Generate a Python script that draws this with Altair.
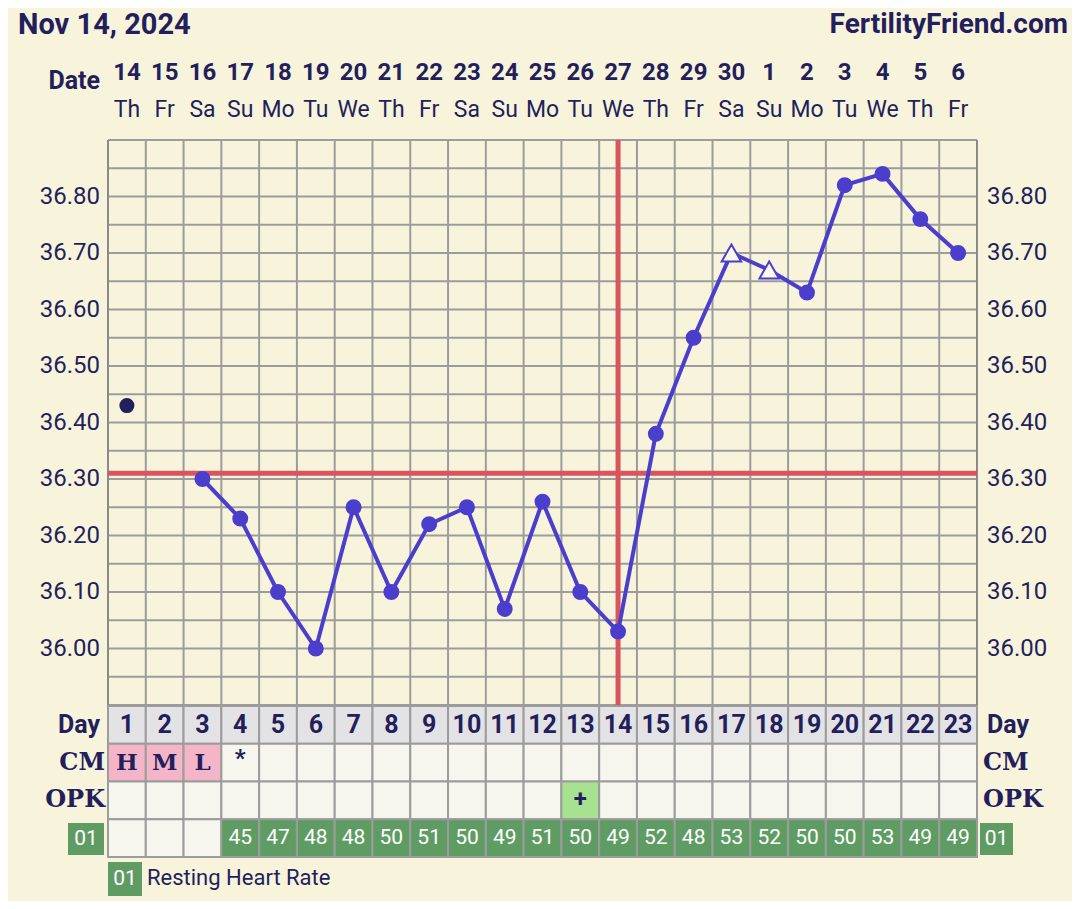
import altair as alt
import pandas as pd
import numpy as np

# ---------------- data ----------------
days = list(range(1, 24))
dates = [14, 15, 16, 17, 18, 19, 20, 21, 22, 23, 24, 25, 26, 27, 28, 29, 30, 1, 2, 3, 4, 5, 6]
weekdays = ["Th", "Fr", "Sa", "Su", "Mo", "Tu", "We", "Th", "Fr", "Sa", "Su", "Mo",
            "Tu", "We", "Th", "Fr", "Sa", "Su", "Mo", "Tu", "We", "Th", "Fr"]
temps = [36.43, None, 36.30, 36.23, 36.10, 36.00, 36.25, 36.10, 36.22, 36.25, 36.07, 36.26,
         36.10, 36.03, 36.38, 36.55, 36.70, 36.67, 36.63, 36.82, 36.84, 36.76, 36.70]
markers = ["isolated", None] + ["circle"] * 14 + ["open", "open"] + ["circle"] * 5
cm = ["H", "M", "L", "*"] + [""] * 19
opk = [""] * 12 + ["+"] + [""] * 10
hr = [None, None, None, 45, 47, 48, 48, 50, 51, 50, 49, 51, 50, 49, 52, 48, 53, 52, 50, 50, 53, 49, 49]
temp_ticks = ["36.00", "36.10", "36.20", "36.30", "36.40", "36.50", "36.60", "36.70", "36.80"]
row_labels = ["Day", "CM", "OPK"]
coverline = 36.31
ovulation_day = 14
temp_min, temp_max, temp_step = 35.90, 36.90, 0.05
title_left = "Nov 14, 2024"
title_right = "FertilityFriend.com"
hr_code = "01"
hr_legend = "Resting Heart Rate"

# ---------------- style ----------------
NAVY = "#231F5C"
BG = "#F8F4DC"
GRID = "#9C9C9C"
BORDER = "#8A8A8A"
LINE = "#4B3ECC"
RED = "#D9545C"
DAYROW = "#E3E3E5"
CELL = "#F6F6EE"
PINK = "#F4B5C8"
LGREEN = "#A6E28F"
GREEN = "#5F9C63"
SANS = "Roboto"
SERIF = "DejaVu Serif"

XS = alt.Scale(domain=[days[0] - 0.5, days[-1] + 0.5], range=[100, 969])
TS = alt.Scale(domain=[temp_min, temp_max], range=[697, 132], zero=False)
RS = alt.Scale(domain=[0, 4], range=[698, 849], zero=False)


def X(f):
    return alt.X(f"{f}:Q", scale=XS, axis=None)


def X2(f):
    return alt.X2(f"{f}:Q")


def YT(f):
    return alt.Y(f"{f}:Q", scale=TS, axis=None)


def YR(f):
    return alt.Y(f"{f}:Q", scale=RS, axis=None)


temp_df = pd.DataFrame({"day": days, "temp": temps, "marker": markers})
head_df = pd.DataFrame({"day": days, "date": [str(d) for d in dates], "dow": weekdays})
vgrid = pd.DataFrame({"xg": [d - 0.5 for d in days] + [days[-1] + 0.5],
                      "y0": temp_min, "y1": temp_max})
vgrid["edge"] = (vgrid["xg"] == vgrid["xg"].min()) | (vgrid["xg"] == vgrid["xg"].max())
hgrid = pd.DataFrame({"yg": np.round(np.arange(temp_min, temp_max + 1e-6, temp_step), 2),
                      "x0": days[0] - 0.5, "x1": days[-1] + 0.5})
ticks_df = pd.DataFrame({"lab": temp_ticks, "t": [float(t) for t in temp_ticks],
                         "xl": days[0] - 0.5, "xr": days[-1] + 0.5})
cover_df = pd.DataFrame({"t": [coverline], "x0": [days[0] - 0.5], "x1": [days[-1] + 0.5]})
ov_df = pd.DataFrame({"d": [ovulation_day], "y0": [temp_min], "y1": [temp_max]})

cells = []
for i, d in enumerate(days):
    cells.append(dict(day=d, row=0, fill=DAYROW, label=str(d)))
    cells.append(dict(day=d, row=1, fill=PINK if cm[i] in ("H", "M", "L") else CELL, label=cm[i]))
    cells.append(dict(day=d, row=2, fill=LGREEN if opk[i] == "+" else CELL, label=opk[i]))
    cells.append(dict(day=d, row=3, fill=GREEN if hr[i] is not None else CELL,
                      label="" if hr[i] is None else str(hr[i])))
cells_df = pd.DataFrame(cells)
side_df = pd.DataFrame({"row": [0, 1, 2], "lab": row_labels,
                        "xl": days[0] - 0.5, "xr": days[-1] + 0.5})

layers = []

# grid
layers.append(alt.Chart(hgrid).mark_rule(color=GRID, strokeWidth=2).encode(
    x=X("x0"), x2=X2("x1"), y=YT("yg")))
layers.append(alt.Chart(vgrid).mark_rule(strokeWidth=2).encode(
    x=X("xg"), y=YT("y0"), y2=alt.Y2("y1:Q"),
    color=alt.condition("datum.edge", alt.value(BORDER), alt.value(GRID))))

# red lines
layers.append(alt.Chart(cover_df).mark_rule(color=RED, strokeWidth=5).encode(
    x=X("x0"), x2=X2("x1"), y=YT("t")))
layers.append(alt.Chart(ov_df).mark_rule(color=RED, strokeWidth=5).encode(
    x=X("d"), y=YT("y0"), y2=alt.Y2("y1:Q")))

# temperature line and points
layers.append(alt.Chart(temp_df).transform_filter(
    "datum.temp != null && datum.marker != 'isolated'").mark_line(
    color=LINE, strokeWidth=4).encode(x=X("day"), y=YT("temp")))
layers.append(alt.Chart(temp_df).transform_filter("datum.marker == 'circle'").mark_point(
    shape="circle", filled=True, size=254, color=LINE, opacity=1).encode(x=X("day"), y=YT("temp")))
layers.append(alt.Chart(temp_df).transform_filter("datum.marker == 'open'").mark_point(
    shape="triangle-up", filled=True, size=380, fill="#FBF8E8", stroke=LINE, strokeWidth=2,
    opacity=1).encode(x=X("day"), y=YT("temp")))
layers.append(alt.Chart(temp_df).transform_filter("datum.marker == 'isolated'").mark_point(
    shape="circle", filled=True, size=227, color=NAVY, opacity=1).encode(x=X("day"), y=YT("temp")))

# temperature labels
layers.append(alt.Chart(ticks_df).mark_text(align="right", baseline="middle", dx=-8,
    font=SANS, fontSize=24, color=NAVY).encode(x=X("xl"), y=YT("t"), text="lab:N"))
layers.append(alt.Chart(ticks_df).mark_text(align="left", baseline="middle", dx=10,
    font=SANS, fontSize=24, color=NAVY).encode(x=X("xr"), y=YT("t"), text="lab:N"))

# table cells
layers.append(alt.Chart(cells_df).transform_calculate(
    x0="datum.day - 0.5", x1="datum.day + 0.5", r0="datum.row", r1="datum.row + 1").mark_rect(
    stroke=GRID, strokeWidth=2).encode(
    x=X("x0"), x2=X2("x1"), y=YR("r0"), y2=alt.Y2("r1:Q"), fill=alt.Fill("fill:N", scale=None)))

cells_c = alt.Chart(cells_df).transform_calculate(ym="datum.row + 0.5")
layers.append(cells_c.transform_filter("datum.row == 0").mark_text(
    font=SANS, fontSize=25, fontWeight="bold", color=NAVY, baseline="middle").encode(
    x=X("day"), y=YR("ym"), text="label:N"))
layers.append(cells_c.transform_filter("datum.row == 1 && datum.label != '*'").mark_text(
    font=SERIF, fontSize=23, fontWeight="bold", color=NAVY, baseline="middle").encode(
    x=X("day"), y=YR("ym"), text="label:N"))
layers.append(cells_c.transform_filter("datum.row == 1 && datum.label == '*'").mark_text(
    font=SANS, fontSize=24, fontWeight="bold", color=NAVY, baseline="middle", dy=-4).encode(
    x=X("day"), y=YR("ym"), text="label:N"))
layers.append(cells_c.transform_filter("datum.row == 2").mark_text(
    font=SANS, fontSize=24, fontWeight="bold", color=NAVY, baseline="middle").encode(
    x=X("day"), y=YR("ym"), text="label:N"))
layers.append(cells_c.transform_filter("datum.row == 3").mark_text(
    font=SANS, fontSize=21, color="white", baseline="middle").encode(
    x=X("day"), y=YR("ym"), text="label:N"))

# row labels
side_c = alt.Chart(side_df).transform_calculate(ym="datum.row + 0.5")
layers.append(side_c.transform_filter("datum.row == 0").mark_text(
    font=SANS, fontSize=25, fontWeight="bold", color=NAVY, align="right", baseline="middle",
    dx=-8).encode(x=X("xl"), y=YR("ym"), text="lab:N"))
layers.append(side_c.transform_filter("datum.row == 0").mark_text(
    font=SANS, fontSize=25, fontWeight="bold", color=NAVY, align="left", baseline="middle",
    dx=10).encode(x=X("xr"), y=YR("ym"), text="lab:N"))
layers.append(side_c.transform_filter("datum.row > 0").mark_text(
    font=SERIF, fontSize=24, fontWeight="bold", color=NAVY, align="right", baseline="middle",
    dx=-3).encode(x=X("xl"), y=YR("ym"), text="lab:N"))
layers.append(side_c.transform_filter("datum.row > 0").mark_text(
    font=SERIF, fontSize=24, fontWeight="bold", color=NAVY, align="left", baseline="middle",
    dx=6).encode(x=X("xr"), y=YR("ym"), text="lab:N"))

# heart-rate code boxes (row labels on both sides, and legend swatch)
code_df = pd.DataFrame({"code": [hr_code]})
legend_df = pd.DataFrame({"t": [hr_legend]})
for bx0, bx1, by0, by1 in [(60, 96, 815, 847), (972, 1005, 815, 847), (100, 134, 854, 888)]:
    layers.append(alt.Chart(code_df).mark_rect(color=GREEN).encode(
        x=alt.value(bx0), x2=alt.value(bx1), y=alt.value(by0), y2=alt.value(by1)))
    layers.append(alt.Chart(code_df).mark_text(font=SANS, fontSize=21, color="white",
        baseline="middle").encode(
        x=alt.value((bx0 + bx1) / 2), y=alt.value((by0 + by1) / 2), text="code:N"))
layers.append(alt.Chart(legend_df).mark_text(
    font=SANS, fontSize=22, color=NAVY, align="left", baseline="middle").encode(
    x=alt.value(139), y=alt.value(870), text="t:N"))

# header: dates
layers.append(alt.Chart(head_df).mark_text(font=SANS, fontSize=24, fontWeight="bold",
    color=NAVY, baseline="middle").encode(x=X("day"), y=alt.value(65), text="date:N"))
layers.append(alt.Chart(head_df).mark_text(font=SANS, fontSize=23, color=NAVY,
    baseline="middle").encode(x=X("day"), y=alt.value(102), text="dow:N"))
layers.append(alt.Chart(pd.DataFrame({"t": ["Date"], "xl": [days[0] - 0.5]})).mark_text(
    font=SANS, fontSize=25, fontWeight="bold", color=NAVY, align="right", baseline="middle",
    dx=-8).encode(x=X("xl"), y=alt.value(73), text="t:N"))

# titles
layers.append(alt.Chart(pd.DataFrame({"t": [title_left]})).mark_text(
    font=SANS, fontSize=29, fontWeight="bold", color=NAVY, align="left", baseline="middle"
    ).encode(x=alt.value(10), y=alt.value(17), text="t:N"))
layers.append(alt.Chart(pd.DataFrame({"t": [title_right]})).mark_text(
    font=SANS, fontSize=28, fontWeight="bold", color=NAVY, align="right", baseline="middle"
    ).encode(x=alt.value(1060), y=alt.value(17), text="t:N"))

chart = alt.layer(*layers).resolve_scale(y="independent", x="independent").properties(
    width=1064, height=893, padding=0, background=BG,
    autosize=alt.AutoSizeParams(type="none"),
).configure_view(stroke=None)

chart.save("out.html", embed_options={"renderer": "svg", "actions": False})
